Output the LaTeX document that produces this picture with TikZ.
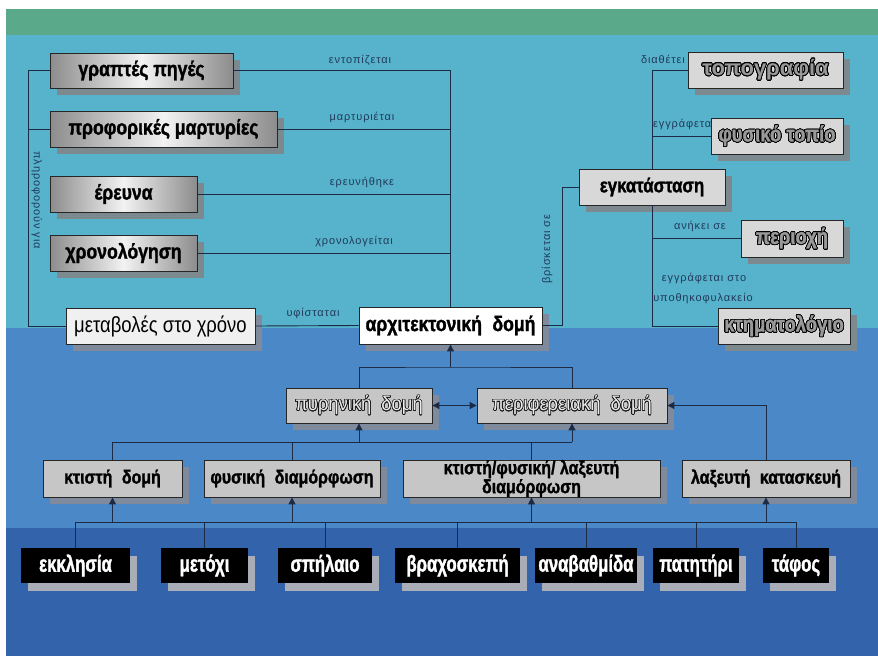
\documentclass[tikz,border=0pt]{standalone}
\usepackage{fontspec}
\setmainfont{Liberation Sans}
\newfontfamily\boxfont[FakeStretch=0.84, BoldFeatures={FakeBold=1.4}]{Liberation Sans}
\newfontfamily\narrowfont[FakeStretch=0.73, BoldFeatures={FakeBold=1.4}]{Liberation Sans}
\newfontfamily\widefont[FakeStretch=0.92]{Liberation Sans}
\newfontfamily\lblfont[LetterSpace=8]{Liberation Sans}
\usepackage{contour}
\contournumber{24}
\usetikzlibrary{arrows.meta,positioning,calc,shadows}
\definecolor{BandGreen}{HTML}{5BA98B}
\definecolor{SkyCyan}{HTML}{57B3CB}
\definecolor{MidBlue}{HTML}{4A88C8}
\definecolor{DeepBlue}{HTML}{3263AB}
\definecolor{LineNavy}{HTML}{1C2B45}
\definecolor{LabelNavy}{HTML}{213A5C}
\definecolor{ShadowGrey}{HTML}{7C8A90}
\definecolor{ShadowBlue}{HTML}{7F8A9C}
\definecolor{ShadowLight}{HTML}{A9ADB8}
\definecolor{MarbleGrey}{HTML}{D8D8D8}
\definecolor{PlateGrey}{HTML}{C6C6C6}
\newcommand{\hollow}[1]{{\contourlength{0.55pt}\contour{black!90}{\color{white!92!black}#1}}}
\newcommand{\carved}[1]{{\contourlength{0.8pt}\contour{black}{\color{black!40}#1}}}

\begin{document}
\begin{tikzpicture}[
  x=1pt, y=-1pt,
  box/.style={draw=black!85, line width=0.8pt, inner sep=0pt, text=black},
  metal/.style={box, left color=black!45, right color=black!45, middle color=black!5,
                font=\boxfont\bfseries\fontsize{21}{21}\selectfont,
                drop shadow={shadow xshift=7pt, shadow yshift=-7pt, fill=ShadowGrey, opacity=1}},
  marble/.style={box, fill=MarbleGrey,
                font=\boxfont\bfseries\fontsize{22}{22}\selectfont,
                drop shadow={shadow xshift=7pt, shadow yshift=-7pt, fill=ShadowGrey, opacity=1}},
  plain/.style={box, fill=white!94!black,
                drop shadow={shadow xshift=7pt, shadow yshift=-7pt, fill=ShadowBlue, opacity=1}},
  plate/.style={box, fill=PlateGrey, align=center,
                font=\boxfont\bfseries\fontsize{19}{16}\selectfont,
                drop shadow={shadow xshift=7pt, shadow yshift=-7pt, fill=ShadowBlue, opacity=1}},
  site/.style={fill=black, text=white, inner sep=0pt,
                font=\narrowfont\bfseries\fontsize{23}{23}\selectfont,
                drop shadow={shadow xshift=7pt, shadow yshift=-8pt, fill=ShadowLight, opacity=1}},
  rel/.style={font=\lblfont\fontsize{11}{13}\selectfont, text=LabelNavy, inner sep=0pt},
  link/.style={draw=LineNavy, line width=0.9pt},
  up/.style={link, ->},
  >={Triangle[length=7pt, width=7pt]}
]
  \useasboundingbox (0,0) rectangle (878,656);
  % background bands
  \fill[white] (0,0) rectangle (878,656);
  \fill[BandGreen] (6,9) rectangle (878,35);
  \fill[SkyCyan] (6,35) rectangle (878,328);
  \fill[MidBlue] (6,328) rectangle (878,528);
  \fill[DeepBlue] (6,528) rectangle (878,656);

  % relation labels
  \node[rel] (l-ent) at (360,60) {εντοπίζεται};
  \node[rel] (l-mar) at (362,117) {μαρτυριέται};
  \node[rel] (l-ere) at (362,182) {ερευνήθηκε};
  \node[rel] (l-xro) at (354,241) {χρονολογείται};
  \node[rel] (l-yfi) at (313,313) {υφίσταται};
  \node[rel, rotate=-90] (l-pli) at (37,200) {πληροφορούν για};
  \node[rel, rotate=90] (l-vri) at (547,249) {βρίσκεται σε};
  \node[rel, anchor=east] (l-dia) at (685,59) {διαθέτει};
  \node[rel, anchor=west] (l-egg) at (653,124) {εγγράφεται};
  \node[rel] (l-ani) at (700,226) {ανήκει σε};
  \node[rel] (l-est) at (704,278) {εγγράφεται στο};
  \node[rel] (l-ypo) at (703,298) {υποθηκοφυλακείο};

  % sources
  \node[metal, minimum width=183pt, minimum height=35pt] (gp) at (141.5,70.5) {γραπτές πηγές};
  \node[metal, minimum width=227pt, minimum height=36pt] (pm) at (163.5,129) {προφορικές μαρτυρίες};
  \node[metal, minimum width=147pt, minimum height=36pt] (er) at (123.5,194) {έρευνα};
  \node[metal, minimum width=147pt, minimum height=36pt] (xr) at (123.5,253) {χρονολόγηση};
  \node[plain, minimum width=189pt, minimum height=36pt,
        font=\boxfont\fontsize{22}{22}\selectfont] (mx) at (160.5,326) {μεταβολές στο χρόνο};
  \node[plain, fill=white, minimum width=183pt, minimum height=37pt,
        font=\boxfont\bfseries\fontsize{21}{21}\selectfont] (ad) at (450.5,325.5) {αρχιτεκτονική\enspace δομή};

  % site
  \node[marble, minimum width=146pt, minimum height=36pt,
        font=\boxfont\bfseries\fontsize{20}{20}\selectfont] (eg) at (652,187) {εγκατάσταση};
  \node[marble, minimum width=155pt, minimum height=36pt,
        font=\bfseries\fontsize{22}{22}\selectfont] (tp) at (765.5,70) {\carved{τοπογραφία}};
  \node[marble, minimum width=132pt, minimum height=36pt] (ft) at (777,136) {\carved{φυσικό τοπίο}};
  \node[marble, minimum width=102pt, minimum height=37pt] (pe) at (792,238.5) {\carved{περιοχή}};
  \node[marble, minimum width=132pt, minimum height=36pt] (kt) at (784,326) {\carved{κτηματολόγιο}};

  % structure
  \node[plate, minimum width=146pt, minimum height=35pt,
        font=\widefont\fontsize{20}{20}\selectfont] (pd) at (359,405.5) {\hollow{πυρηνική\enspace δομή}};
  \node[plate, minimum width=190pt, minimum height=35pt,
        font=\widefont\fontsize{20}{20}\selectfont] (pf) at (572,405.5) {\hollow{περιφερειακή\enspace δομή}};
  \node[plate, minimum width=139pt, minimum height=37pt] (kd) at (112.5,478.5) {κτιστή\enspace δομή};
  \node[plate, minimum width=176pt, minimum height=37pt] (fd) at (292,478.5) {φυσική\enspace διαμόρφωση};
  \node[plate, minimum width=257pt, minimum height=37pt] (kfl) at (531.5,478.5) {κτιστή/φυσική/ λαξευτή\\διαμόρφωση};
  \node[plate, minimum width=168pt, minimum height=37pt] (lk) at (766,478.5) {λαξευτή\enspace κατασκευή};

  % monuments
  \node[site, minimum width=109pt, minimum height=35pt] (ek) at (75.5,565.5) {εκκλησία};
  \node[site, minimum width=87pt, minimum height=35pt] (mt) at (204.5,565.5) {μετόχι};
  \node[site, minimum width=94pt, minimum height=35pt] (sp) at (325,565.5) {σπήλαιο};
  \node[site, minimum width=125pt, minimum height=35pt] (vr) at (457.5,565.5) {βραχοσκεπή};
  \node[site, minimum width=102pt, minimum height=35pt] (an) at (586,565.5) {αναβαθμίδα};
  \node[site, minimum width=86pt, minimum height=35pt] (pt) at (696,565.5) {πατητήρι};
  \node[site, minimum width=66pt, minimum height=35pt] (tf) at (796,565.5) {τάφος};

  % junctions
  \coordinate (lv) at (28,326);
  \coordinate (bend) at (562,326);
  \coordinate (j1) at (450.5,367);
  \coordinate (j2) at (0,442);
  \coordinate (j3) at (0,522);

  % connectors, upper part
  \draw[link] (gp.west) -| (lv) -- (mx.west);
  \draw[link] (pm.west) -- (pm.west -| lv);
  \draw[link] (gp.east) -| (ad.north);
  \foreach \src in {pm,er,xr}
    \draw[link] (\src.east) -- (\src.east -| ad.north);
  \draw[link] (mx.east) -- (ad.west);
  \draw[link] (ad.east) -- (ad.east -| bend) |- (eg.west);
  \draw[link] (eg.north) |- (tp.west);
  \draw[link] (eg.north) |- (ft.west);
  \draw[link] (eg.south) |- (pe.west);
  \draw[link] (eg.south) |- (kt.west);

  % connectors, structure
  \draw[link] (pd.north) |- (j1) -| (pf.north);
  \draw[up] (j1) -- (ad.south);
  \draw[link, <->] (pd.east) -- (pf.west);
  \draw[link] (kd.north) -- (kd.north |- j2) -- (pf.south |- j2);
  \draw[up] (pd.south |- j2) -- (pd.south);
  \draw[up] (pf.south |- j2) -- (pf.south);
  \draw[link] (fd.north) -- (fd.north |- j2);
  \draw[link] (kfl.north) -- (kfl.north |- j2);
  \draw[up] (lk.north) |- (pf.east);

  % connectors, monuments
  \draw[link] (ek.north) -- (ek.north |- j3) -- (tf.north |- j3) -- (tf.north);
  \foreach \s in {mt,sp,vr,an,pt}
    \draw[link] (\s.north) -- (\s.north |- j3);
  \foreach \t in {kd,fd,kfl,lk}
    \draw[up] (\t.south |- j3) -- (\t.south);
\end{tikzpicture}
\end{document}
